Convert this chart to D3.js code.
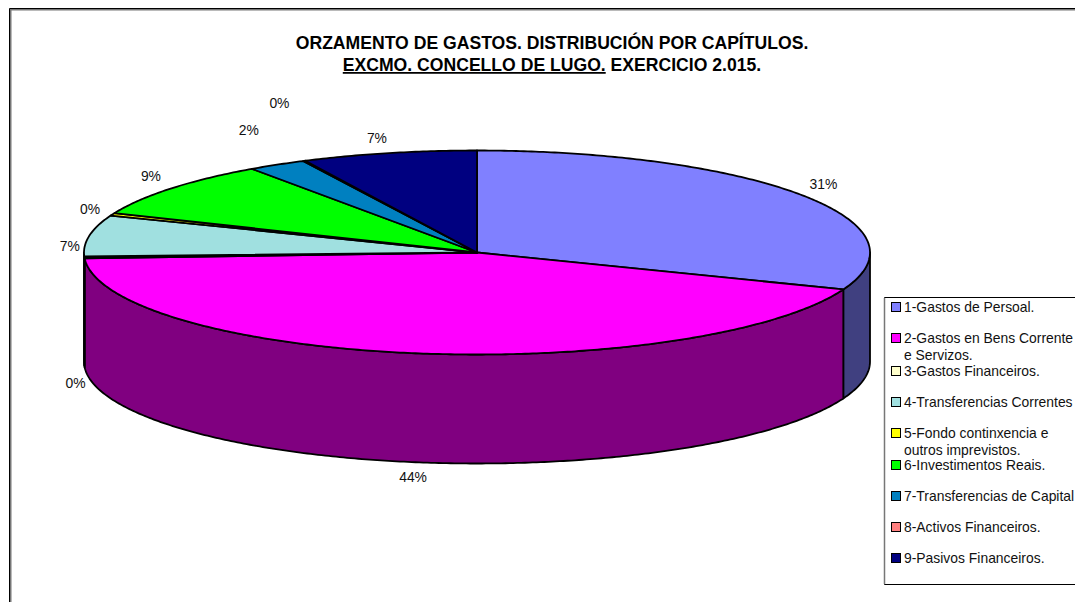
<!DOCTYPE html>
<html>
<head>
<meta charset="utf-8">
<title>Orzamento de gastos</title>
<script src="https://cdn.jsdelivr.net/npm/d3@7"></script>
<style>
  html, body { margin: 0; background: #fff; overflow: hidden; }
  svg { display: block; font-family: "Liberation Sans", Arial, sans-serif; fill: #000; }
  .title { font-size: 17.6px; font-weight: bold; text-anchor: middle; }
  .label { font-size: 13.9px; text-anchor: middle; dominant-baseline: middle; fill: #111; }
  .legend-text { font-size: 13.9px; fill: #111; }
</style>
</head>
<body>
<svg id="chart" width="1075" height="602"></svg>
<script>
const chapters = [
  ["1-Gastos de Persoal."],
  ["2-Gastos en Bens Corrente", "e Servizos."],
  ["3-Gastos Financeiros."],
  ["4-Transferencias Correntes"],
  ["5-Fondo continxencia e", "outros imprevistos."],
  ["6-Investimentos Reais."],
  ["7-Transferencias de Capital"],
  ["8-Activos Financeiros."],
  ["9-Pasivos Financeiros."],
];
const shares = [30.9, 43.2, 0.3, 6.5, 0.4, 9.0, 2.4, 0.1, 7.2];
const percentLabels = ["31%", "44%", "0%", "7%", "0%", "9%", "2%", "0%", "7%"];
const sliceColors = ["#8080ff", "#ff00ff", "#ffffcc", "#a0e0e0", "#ffff00", "#00ff00", "#0080c0", "#ff8080", "#000080"];
const sideColors = ["#404080", "#800080", "#808066", "#507070", "#808000", "#008000", "#004060", "#804040", "#000040"];

const cx = 477;
const cy = 252.5;
const rx = 393;
const ry = 102;
const depth = 109;

// nudges from the plain rim position, Excel places these by its own rules
const labelNudges = [
  [4, 3], [1, -6], [13, 17], [2, 15], [-2, 4], [-3, 3], [-17, -14], [-15, -37], [-7, 8],
];

const svg = d3.select("#chart");

// sheet frame, only top and left show
svg.append("path").attr("d", "M10.5,602V9.5H1075").attr("fill", "none").attr("stroke", "#777").attr("stroke-width", 2);
svg.append("path").attr("d", "M9.5,602V8.5H1075").attr("fill", "none").attr("stroke", "#000").attr("stroke-width", 1);

const title = svg.append("text").attr("class", "title").attr("y", 49);
title.append("tspan").attr("x", 552).text("ORZAMENTO DE GASTOS. DISTRIBUCIÓN POR CAPÍTULOS.");
const title2 = svg.append("text").attr("class", "title").attr("x", 552).attr("y", 71);
title2.append("tspan").attr("text-decoration", "underline").text("EXCMO. CONCELLO DE LUGO.");
title2.append("tspan").text(" EXERCICIO 2.015.");

const pie = d3.pie().sort(null).value((d) => d);
const arcs = pie(shares);

const rim = (angle, drop = 0) => [cx + rx * Math.sin(angle), cy - ry * Math.cos(angle) + drop];
const line = d3.line();

function rimAngles(a0, a1) {
  const steps = Math.max(2, Math.ceil((a1 - a0) / 0.01));
  return d3.range(steps + 1).map((i) => a0 + ((a1 - a0) * i) / steps);
}

// side wall, only the front half of the rim (90deg to 270deg)
const sides = svg.append("g").attr("stroke", "#000").attr("stroke-width", 1.8).attr("stroke-linejoin", "round");
arcs.forEach((arc, i) => {
  const a0 = Math.max(arc.startAngle, Math.PI / 2);
  const a1 = Math.min(arc.endAngle, (3 * Math.PI) / 2);
  if (a1 <= a0) {
    return;
  }
  const angles = rimAngles(a0, a1);
  const points = angles.map((a) => rim(a)).concat(angles.slice().reverse().map((a) => rim(a, depth)));
  sides.append("path").attr("d", line(points) + "Z").attr("fill", sideColors[i]);
});

const tops = svg.append("g").attr("stroke", "#000").attr("stroke-width", 1.8).attr("stroke-linejoin", "round");
arcs.forEach((arc, i) => {
  const points = [[cx, cy]].concat(rimAngles(arc.startAngle, arc.endAngle).map((a) => rim(a)));
  tops.append("path").attr("d", line(points) + "Z").attr("fill", sliceColors[i]);
});

const gap = 22;
svg.append("g").selectAll("text")
  .data(arcs)
  .join("text")
  .attr("class", "label")
  .attr("x", (d, i) => {
    const mid = (d.startAngle + d.endAngle) / 2;
    return cx + (rx + gap) * Math.sin(mid) + labelNudges[i][0];
  })
  .attr("y", (d, i) => {
    const mid = (d.startAngle + d.endAngle) / 2;
    const front = Math.cos(mid) < 0 ? depth : 0;
    return cy - (ry + gap) * Math.cos(mid) + front + labelNudges[i][1];
  })
  .text((d, i) => percentLabels[i]);

// legend box runs off the right edge of the picture
svg.append("path").attr("d", "M1075,297.5H884.5V584.5H1075").attr("fill", "#fff").attr("stroke", "#000").attr("stroke-width", 1);
svg.append("path").attr("d", "M884.5,298V584").attr("stroke", "#777").attr("stroke-width", 1.5);

const legendRows = [307, 338, 371, 402, 433, 465, 496, 527, 558];
const legend = svg.append("g");
chapters.forEach((lines, i) => {
  const y = legendRows[i];
  legend.append("rect")
    .attr("x", 891.5).attr("y", y - 4.5).attr("width", 9).attr("height", 9)
    .attr("fill", sliceColors[i]).attr("stroke", "#000").attr("stroke-width", 1);
  lines.forEach((text, j) => {
    legend.append("text")
      .attr("class", "legend-text")
      .attr("x", 904)
      .attr("y", y + 5 + j * 16.5)
      .text(text);
  });
});
</script>
</body>
</html>
